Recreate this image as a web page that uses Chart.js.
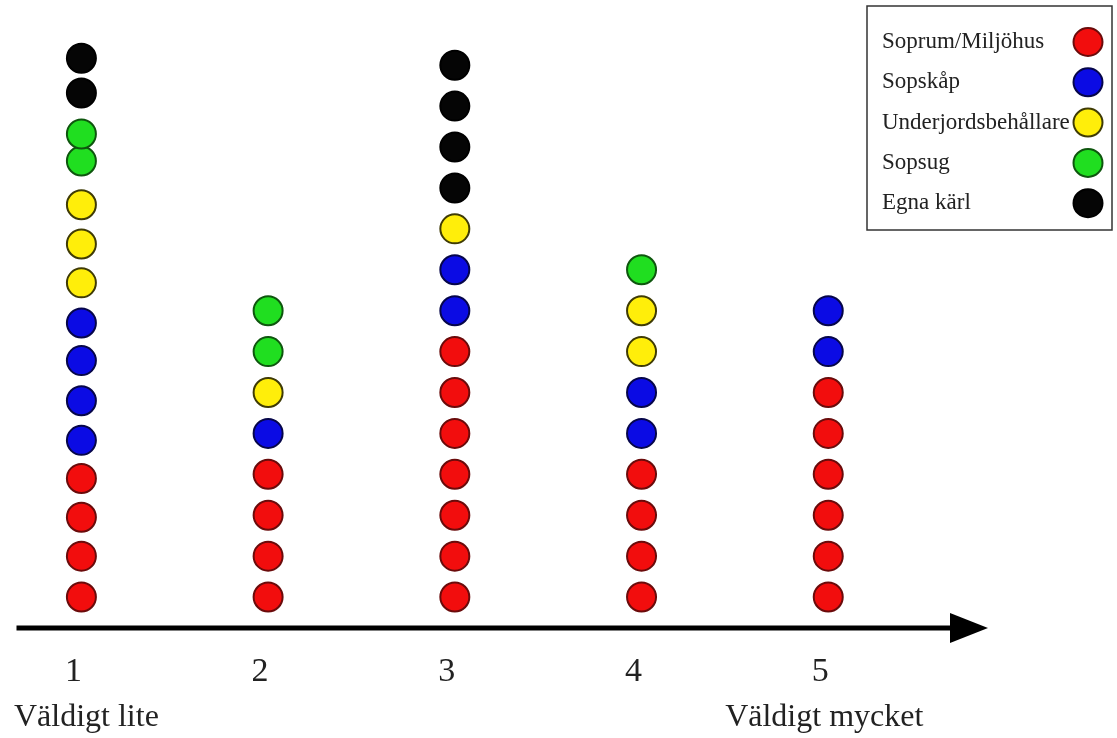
<!DOCTYPE html>
<html>
<head>
<meta charset="utf-8">
<script src="https://cdn.jsdelivr.net/npm/chart.js@4"></script>
<style>
  html, body { margin: 0; padding: 0; background: #fff; }
  #wrap { width: 1117px; height: 738px; }
</style>
</head>
<body>
<div id="wrap"><canvas id="myChart"></canvas></div>
<script>
var columns = [1, 2, 3, 4, 5];
var tickLabels = ["1", "2", "3", "4", "5"];
var endLabels = ["Väldigt lite", "Väldigt mycket"];
var categories = ["Soprum/Miljöhus", "Sopskåp", "Underjordsbehållare", "Sopsug", "Egna kärl"];

// height of each dot in its column (1 = bottom dot), one list per column
var soprum = [[1, 2, 2.95, 3.9], [1, 2, 3, 4], [1, 2, 3, 4, 5, 6, 7], [1, 2, 3, 4], [1, 2, 3, 4, 5, 6]];
var sopskap = [[4.83, 5.8, 6.78, 7.7], [5], [8, 9], [5, 6], [7, 8]];
var underjord = [[8.68, 9.63, 10.59], [6], [10], [7, 8], []];
var sopsug = [[11.66, 12.32], [7, 8], [], [9], []];
var egna = [[13.32, 14.17], [], [11, 12, 13, 14], [], []];

var fills = ["#f20d0d", "#0b0be4", "#ffee0a", "#20de20", "#050505"];
var borders = ["#6a0b0b", "#06064a", "#3f3b05", "#0e560e", "#000000"];

var serif = '"Liberation Serif", "Times New Roman", serif';

function toPoints(cols) {
  var pts = [];
  cols.forEach(function(levels, i) {
    levels.forEach(function(lv) {
      pts.push({ x: columns[i], y: lv });
    });
  });
  return pts;
}

var series = [soprum, sopskap, underjord, sopsug, egna];
var datasets = series.map(function(s, i) {
  return {
    label: categories[i],
    data: toPoints(s),
    backgroundColor: fills[i],
    borderColor: borders[i],
    borderWidth: 2,
    pointRadius: 14.5,
    pointHoverRadius: 14.5,
    showLine: false
  };
});

// arrow axis, end texts and the boxed legend
var extras = {
  id: "extras",
  afterDraw: function(chart) {
    var ctx = chart.ctx;
    var area = chart.chartArea;
    var xs = chart.scales.x;
    var y0 = area.bottom;

    ctx.save();
    ctx.strokeStyle = "#000";
    ctx.lineWidth = 5;
    ctx.beginPath();
    ctx.moveTo(area.left, y0);
    ctx.lineTo(area.right - 30, y0);
    ctx.stroke();
    ctx.fillStyle = "#000";
    ctx.beginPath();
    ctx.moveTo(area.right - 38, y0 - 15);
    ctx.lineTo(area.right, y0);
    ctx.lineTo(area.right - 38, y0 + 15);
    ctx.closePath();
    ctx.fill();

    ctx.fillStyle = "#222";
    ctx.font = "32px " + serif;
    ctx.textAlign = "center";
    ctx.textBaseline = "middle";
    ctx.fillText(endLabels[0], xs.getPixelForValue(columns[0]) + 5, 718);
    ctx.fillText(endLabels[1], xs.getPixelForValue(columns[columns.length - 1]) - 4, 718);

    // legend
    ctx.strokeStyle = "#333";
    ctx.lineWidth = 1.5;
    ctx.strokeRect(867, 6, 245, 224);
    ctx.font = "23px " + serif;
    ctx.textAlign = "left";
    chart.data.datasets.forEach(function(ds, i) {
      var ly = 42 + i * 40.3;
      ctx.fillStyle = "#222";
      ctx.fillText(ds.label, 882, ly);
      ctx.beginPath();
      ctx.ellipse(1088, ly, 14.5, 14, 0, 0, Math.PI * 2);
      ctx.fillStyle = ds.backgroundColor;
      ctx.fill();
      ctx.lineWidth = 2;
      ctx.strokeStyle = ds.borderColor;
      ctx.stroke();
    });
    ctx.restore();
  }
};

var ctx = document.getElementById("myChart").getContext("2d");
var chart = new Chart(ctx, {
  type: "scatter",
  data: { datasets: datasets },
  options: {
    responsive: true,
    maintainAspectRatio: false,
    animation: false,
    events: [],
    layout: { padding: { left: 15, right: 129, top: 0, bottom: 40 } },
    plugins: {
      legend: { display: false },
      tooltip: { enabled: false }
    },
    scales: {
      x: {
        type: "linear",
        min: 0.6524,
        max: 5.8556,
        grid: { display: false },
        border: { display: false },
        afterBuildTicks: function(scale) {
          scale.ticks = columns.map(function(v) { return { value: v }; });
        },
        afterFit: function(scale) {
          scale.height = 70;
        },
        ticks: {
          padding: 16,
          labelOffset: -8,
          color: "#222",
          font: { family: serif, size: 34 },
          callback: function(value) {
            return tickLabels[columns.indexOf(value)];
          }
        }
      },
      y: {
        display: false,
        min: 0.244,
        max: 15.19
      }
    }
  },
  plugins: [extras]
});
</script>
</body>
</html>
